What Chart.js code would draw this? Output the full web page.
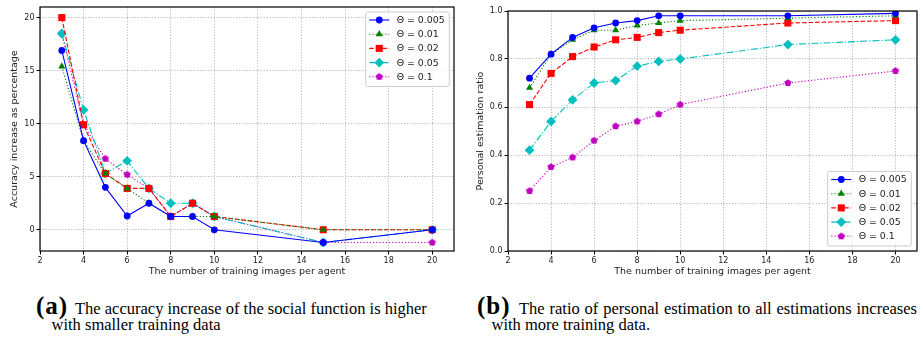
<!DOCTYPE html>
<html>
<head>
<meta charset="utf-8">
<script src="https://cdn.jsdelivr.net/npm/chart.js@4/dist/chart.umd.min.js"></script>
<style>
	html, body { margin: 0; padding: 0; background: #fff; }
	#page { position: relative; width: 922px; height: 338px; overflow: hidden; }
	canvas { position: absolute; top: 0; }
	.cap { position: absolute; font-family: "Liberation Serif", "Times New Roman", serif; color: #000; white-space: nowrap; line-height: 1; }
	.tag { font-size: 25px; font-weight: bold; letter-spacing: 1px; }
	.txt { font-size: 16.5px; }
</style>
</head>
<body>
<div id="page">
	<canvas id="accChart" width="460" height="290" style="left:0px"></canvas>
	<canvas id="ratioChart" width="462" height="290" style="left:460px"></canvas>

	<div class="cap tag" style="left:36px; top:292.5px">(a)</div>
	<div class="cap txt" style="left:75px; top:300.7px">The accuracy increase of the social function is higher</div>
	<div class="cap txt" style="left:51.5px; top:316.5px">with smaller training data</div>

	<div class="cap tag" style="left:477px; top:292.5px">(b)</div>
	<div class="cap txt" style="left:519px; top:300.7px; width:398px; text-align:justify; text-align-last:justify">The ratio of personal estimation to all estimations increases</div>
	<div class="cap txt" style="left:491.5px; top:316.5px">with more training data.</div>
</div>
<script>
// x values shared by both panels
const trainingImages = [3, 4, 5, 6, 7, 8, 9, 10, 15, 20];
const thetaLabels = ['Θ = 0.005', 'Θ = 0.01', 'Θ = 0.02', 'Θ = 0.05', 'Θ = 0.1'];

// (a) accuracy increase, %
const accTheta005 = [16.9, 8.4, 4.0, 1.3, 2.5, 1.25, 1.25, 0, -1.2, 0];
const accTheta01 = [15.4, 8.4, 5.3, 3.9, 2.5, 1.25, 1.25, 1.25, 0, 0];
const accTheta02 = [20, 9.9, 5.3, 3.9, 3.9, 1.25, 2.5, 1.25, 0, 0];
const accTheta05 = [18.5, 11.3, 5.3, 6.5, 3.9, 2.5, 2.5, 1.25, -1.2, 0];
const accTheta1 = [18.5, 9.9, 6.7, 5.2, 3.9, 1.25, 2.5, 1.25, -1.2, -1.2];

// (b) personal estimation ratio
const ratioTheta005 = [0.72, 0.82, 0.89, 0.93, 0.95, 0.96, 0.98, 0.98, 0.98, 0.99];
const ratioTheta01 = [0.68, 0.82, 0.88, 0.92, 0.92, 0.94, 0.95, 0.96, 0.97, 0.98];
const ratioTheta02 = [0.61, 0.74, 0.81, 0.85, 0.88, 0.89, 0.91, 0.92, 0.95, 0.96];
const ratioTheta05 = [0.42, 0.54, 0.63, 0.70, 0.71, 0.77, 0.79, 0.80, 0.86, 0.88];
const ratioTheta1 = [0.25, 0.35, 0.39, 0.46, 0.52, 0.54, 0.57, 0.61, 0.70, 0.75];

// ticks
const xTicks = [2, 4, 6, 8, 10, 12, 14, 16, 18, 20];
const accYTicks = [0, 5, 10, 15, 20];
const ratioYTicks = [0, 0.2, 0.4, 0.6, 0.8, 1.0];

const accXTitle = 'The number of training images per agent';
const accYTitle = 'Accuracy increase as percentage';
const ratioYTitle = 'Personal estimation ratio';

Chart.defaults.font.family = 'DejaVu Sans';
Chart.defaults.color = '#222';

function makePentagon(color, r) {
	const c = document.createElement('canvas');
	const s = Math.ceil(r * 2 + 2);
	c.width = s;
	c.height = s;
	const g = c.getContext('2d');
	g.fillStyle = color;
	g.beginPath();
	for (let k = 0; k < 5; k++) {
		const a = -Math.PI / 2 + k * 2 * Math.PI / 5;
		g.lineTo(s / 2 + r * Math.cos(a), s / 2 + r * Math.sin(a));
	}
	g.closePath();
	g.fill();
	return c;
}

const seriesStyle = [
	{ color: '#0000ff', dash: [], point: 'circle', radius: 3.4 },
	{ color: '#008000', dash: [1.2, 2], point: 'triangle', radius: 4.1 },
	{ color: '#ff0000', dash: [4.5, 2], point: 'rect', radius: 5 },
	{ color: '#00bfbf', dash: [7, 2, 1.2, 2], point: 'rectRot', radius: 4.9 },
	{ color: '#bf00bf', dash: [1.2, 2], point: makePentagon('#bf00bf', 3.8), radius: 4 },
];

function buildDatasets(seriesList) {
	return seriesList.map((values, i) => {
		const st = seriesStyle[i];
		return {
			label: thetaLabels[i],
			data: trainingImages.map((x, k) => ({ x: x, y: values[k] })),
			borderColor: st.color,
			backgroundColor: st.color,
			borderWidth: 1.1,
			borderDash: st.dash,
			pointStyle: st.point,
			pointRadius: st.radius,
			pointBorderWidth: 0,
			pointBackgroundColor: st.color,
			tension: 0,
			fill: false,
		};
	});
}

function drawMarker(ctx, st, x, y) {
	const r = st.radius;
	ctx.save();
	ctx.fillStyle = st.color;
	ctx.setLineDash([]);
	if (typeof st.point !== 'string') {
		ctx.drawImage(st.point, x - st.point.width / 2, y - st.point.height / 2);
		ctx.restore();
		return;
	}
	ctx.beginPath();
	if (st.point === 'circle') {
		ctx.arc(x, y, r, 0, Math.PI * 2);
	} else if (st.point === 'triangle') {
		for (let k = 0; k < 3; k++) {
			const a = k * 2 * Math.PI / 3;
			ctx.lineTo(x + Math.sin(a) * r, y - Math.cos(a) * r);
		}
	} else if (st.point === 'rect') {
		const h = Math.SQRT1_2 * r;
		ctx.rect(x - h, y - h, 2 * h, 2 * h);
	} else if (st.point === 'rectRot') {
		ctx.moveTo(x - r, y);
		ctx.lineTo(x, y - r);
		ctx.lineTo(x + r, y);
		ctx.lineTo(x, y + r);
	}
	ctx.closePath();
	ctx.fill();
	ctx.restore();
}

// frame on all four sides + matplotlib-like legend
function framePlugin(corner) {
	return {
		id: 'frame',
		afterDatasetsDraw(chart) {
			const { ctx, chartArea: a } = chart;
			ctx.save();
			ctx.strokeStyle = '#000';
			ctx.lineWidth = 1.2;
			ctx.setLineDash([]);
			ctx.strokeRect(a.left, a.top, a.right - a.left, a.bottom - a.top);
			ctx.restore();
		},
		afterDraw(chart) {
			const { ctx, chartArea: a } = chart;
			ctx.save();
			ctx.font = '9.4px "DejaVu Sans"';
			const textW = Math.max(...thetaLabels.map((t) => ctx.measureText(t).width));
			const rowH = 14.2;
			const w = 3.6 + 20 + 7.4 + textW + 4.6;
			const h = rowH * thetaLabels.length + 3.5;
			let x0, y0;
			if (corner === 'top') {
				x0 = a.right - 4.7 - w;
				y0 = a.top + 5;
			} else {
				x0 = a.right - 5.7 - w;
				y0 = a.bottom - 5 - h;
			}
			ctx.fillStyle = 'rgba(255,255,255,0.8)';
			ctx.strokeStyle = '#cccccc';
			ctx.lineWidth = 1;
			ctx.beginPath();
			ctx.roundRect(x0, y0, w, h, 2);
			ctx.fill();
			ctx.stroke();
			thetaLabels.forEach((label, i) => {
				const st = seriesStyle[i];
				const cy = y0 + 8 + i * rowH;
				ctx.strokeStyle = st.color;
				ctx.lineWidth = 1.1;
				ctx.setLineDash(st.dash);
				ctx.beginPath();
				ctx.moveTo(x0 + 3.6, cy);
				ctx.lineTo(x0 + 23.6, cy);
				ctx.stroke();
				drawMarker(ctx, st, x0 + 13.6, cy);
				ctx.fillStyle = '#222';
				ctx.textBaseline = 'middle';
				ctx.textAlign = 'left';
				ctx.fillText(label, x0 + 31, cy + 0.5);
			});
			ctx.restore();
		},
	};
}

function axisOptions(ticksList, min, max, fmt, title, titlePad, fitSize, horizontal) {
	return {
		type: 'linear',
		min: min,
		max: max,
		afterBuildTicks: (scale) => {
			scale.ticks = ticksList.map((v) => ({ value: v }));
		},
		afterFit: (scale) => {
			if (horizontal) scale.height = fitSize;
			else scale.width = fitSize;
		},
		grid: {
			color: '#b0b0b0',
			lineWidth: 0.9,
			drawTicks: true,
			tickLength: 3.5,
			tickColor: '#000',
			tickWidth: 1,
			tickBorderDash: [],
		},
		border: { display: false, dash: [1.2, 1.6] },
		ticks: {
			autoSkip: false,
			maxRotation: 0,
			padding: horizontal ? 1.5 : 2,
			font: { size: 8 },
			color: '#222',
			callback: fmt,
		},
		title: {
			display: true,
			text: title,
			font: { size: 9.5 },
			color: '#222',
			padding: titlePad,
		},
	};
}

function chartOptions(yAxis, xAxis, pad) {
	return {
		responsive: false,
		animation: false,
		devicePixelRatio: 1,
		layout: { padding: pad },
		plugins: {
			legend: { display: false },
			title: { display: false },
			tooltip: { enabled: false },
		},
		scales: { x: xAxis, y: yAxis },
	};
}

new Chart(document.getElementById('accChart'), {
	type: 'line',
	data: {
		datasets: buildDatasets([accTheta005, accTheta01, accTheta02, accTheta05, accTheta1]),
	},
	options: chartOptions(
		axisOptions(accYTicks, -2, 21, (v) => String(v), accYTitle, { top: 9.3, bottom: 0 }, 40, false),
		axisOptions(xTicks, 2, 21, (v) => String(v), accXTitle, { top: 0, bottom: 12.6 }, 39, true),
		{ left: 0, top: 7, right: 6, bottom: 0 }
	),
	plugins: [framePlugin('top')],
});

new Chart(document.getElementById('ratioChart'), {
	type: 'line',
	data: {
		datasets: buildDatasets([ratioTheta005, ratioTheta01, ratioTheta02, ratioTheta05, ratioTheta1]),
	},
	options: chartOptions(
		axisOptions(ratioYTicks, 0, 1.0, (v) => v.toFixed(1), ratioYTitle, { top: 15, bottom: 0 }, 48, false),
		axisOptions(xTicks, 2, 21, (v) => String(v), accXTitle, { top: 0, bottom: 12.6 }, 39, true),
		{ left: 0, top: 11, right: 2, bottom: 0 }
	),
	plugins: [framePlugin('bottom')],
});
</script>
</body>
</html>
